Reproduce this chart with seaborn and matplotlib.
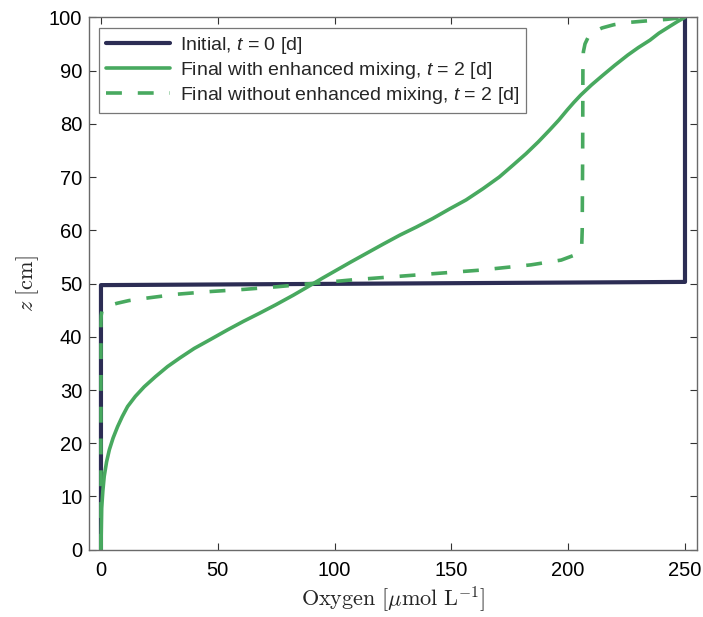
import numpy as np
import pandas as pd
import matplotlib
matplotlib.use("Agg")
import matplotlib.pyplot as plt
import seaborn as sns

# ---- data ----
init_z = [0, 49.7, 50.3, 100]
init_o2 = [0, 0, 250, 250]

mix_z = [0, 4, 7.8, 11, 13.8, 16.5, 18.8, 21, 23.1, 25, 26.9, 28.8, 30.6, 32.5,
         34.4, 36, 37.8, 39.5, 41.3, 42.9, 44.4, 46, 47.8, 49.4, 51, 52.5, 54,
         55.7, 57.4, 59.1, 60.6, 62.2, 64, 65.7, 67.8, 70, 72.2, 74.4, 76.6, 78.8,
         80.7, 82.6, 84, 85.4, 87.3, 89.1, 91, 92.9, 94.3, 95.7, 97, 98.3, 99.2, 100]
mix_o2 = [0, 0.15, 0.3, 0.8, 1.4, 2.4, 3.6, 5.2, 7.1, 9.1, 11.4, 14.7, 18.5, 23.3,
          28.5, 33.7, 39.9, 46.9, 54.2, 61.0, 67.8, 74.8, 82.3, 88.6, 94.8, 100.8,
          106.8, 113.8, 120.8, 128, 135, 142, 149.2, 156.3, 163.5, 170.5, 176.3,
          182, 187.2, 192, 196, 199.6, 202.4, 205.4, 210, 214.8, 220, 225.5,
          230, 235, 238.8, 243.5, 246.8, 250]

nomix_z = [0, 42.6, 44.0, 44.8, 45.4, 45.9, 46.3, 46.8, 47.2, 48.0, 48.5, 48.9,
           49.4, 49.9, 50.7, 51.6, 52.5, 53.5, 54.4, 55.3, 56.2, 57.2, 60, 75, 90,
           93.5, 95.0, 96.3, 97.2, 98.0, 98.6, 99.0, 99.3, 99.6, 100]
nomix_o2 = [0, 0, 0.1, 0.4, 1.5, 3.8, 7, 12, 18.5, 32.8, 47, 61.3, 75.6, 88, 108,
            135, 162, 184, 197, 202.5, 205, 205.8, 206, 206.2, 206.3, 206.5,
            207.2, 208.6, 210.8, 214.5, 219.5, 225, 233, 242, 250]

labels = ["Initial, $t$ = 0 [d]",
          "Final with enhanced mixing, $t$ = 2 [d]",
          "Final without enhanced mixing, $t$ = 2 [d]"]
xticks = [0, 50, 100, 150, 200, 250]
yticks = list(range(0, 101, 10))

navy = "#2c2d54"
green = "#48a95f"

sns.set_theme(style="white")
plt.rcParams["font.family"] = ["Liberation Sans", "DejaVu Sans"]
plt.rcParams["mathtext.fontset"] = "custom"
plt.rcParams["mathtext.rm"] = "Liberation Sans"
plt.rcParams["mathtext.it"] = "Liberation Sans:italic"

fig = plt.figure(figsize=(7.03, 6.17), dpi=100)
ax = fig.add_axes([0.127, 0.109, 0.864, 0.863])

df_i = pd.DataFrame({"o2": init_o2, "z": init_z})
df_m = pd.DataFrame({"o2": mix_o2, "z": mix_z})
df_n = pd.DataFrame({"o2": nomix_o2, "z": nomix_z})

sns.lineplot(data=df_i, x="o2", y="z", sort=False, estimator=None, ax=ax,
             color=navy, lw=3.0, label=labels[0])
sns.lineplot(data=df_m, x="o2", y="z", sort=False, estimator=None, ax=ax,
             color=green, lw=2.6, label=labels[1])
sns.lineplot(data=df_n, x="o2", y="z", sort=False, estimator=None, ax=ax,
             color=green, lw=2.6, label=labels[2])
ax.lines[2].set_dashes((4.4, 4.4))
for l in ax.lines:
    l.set_solid_joinstyle("round")
    l.set_dash_joinstyle("round")

ax.set_xlim(-5, 255)
ax.set_ylim(0, 100)
ax.set_xticks(xticks)
ax.set_yticks(yticks)
ax.tick_params(direction="in", length=5, width=0.8, colors="#333333",
               labelsize=14.5, top=True, right=True, bottom=True, left=True,
               labelcolor="black")
ax.tick_params(axis="x", pad=8)
ax.tick_params(axis="y", pad=5)
for s in ax.spines.values():
    s.set_color("#6a6a6a")
    s.set_linewidth(1.0)

ax.set_xlabel(r"$\mathrm{Oxygen}\ [\mu\mathrm{mol\ L^{-1}}]$", fontsize=16,
              math_fontfamily="cm", labelpad=3)
ax.set_ylabel(r"$z\ [\mathrm{cm}]$", fontsize=16, math_fontfamily="cm", labelpad=6)

leg = ax.legend(loc="upper left", bbox_to_anchor=(0.016, 0.979), fontsize=14,
                frameon=True, fancybox=False, edgecolor="#555555",
                handlelength=3.3, borderpad=0.35, labelspacing=0.2,
                handletextpad=0.5, borderaxespad=0.0)
leg.get_frame().set_linewidth(0.9)

fig.savefig("out.png", dpi=100)
